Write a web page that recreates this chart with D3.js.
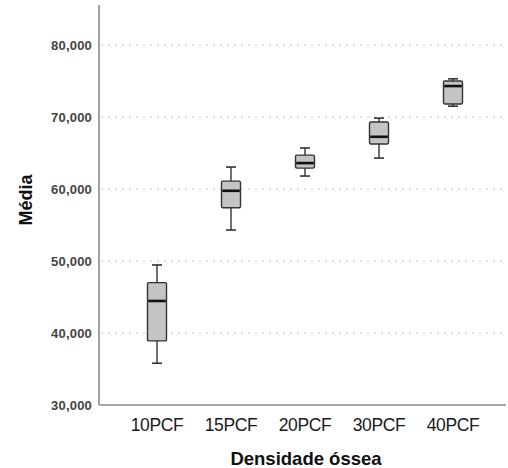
<!DOCTYPE html>
<html><head><meta charset="utf-8">
<script src="https://cdn.jsdelivr.net/npm/d3@7/dist/d3.min.js"></script>
<style>body{margin:0;background:#fff;} svg{display:block;}</style>
</head><body>
<svg id="c" width="508" height="468"></svg>
<script>
const categories = ["10PCF","15PCF","20PCF","30PCF","40PCF"];
const whiskerLow  = [35800, 54300, 61800, 64300, 71500];
const q1          = [38900, 57400, 62900, 66250, 71800];
const median      = [44450, 59750, 63600, 67250, 74300];
const q3          = [47000, 61100, 64700, 69300, 75000];
const whiskerHigh = [49450, 63050, 65700, 69850, 75300];
const yTicks = [30000, 40000, 50000, 60000, 70000, 80000];

(function () {
const svg = d3.select("#c");
const mLeft = 99, mBottom = 405, mTop = 5, mRight = 506;
const y = d3.scaleLinear().domain([30000, 85556]).range([mBottom, mTop]);
const x = d3.scaleBand().domain(categories).range([120, 490]);
const fmt = d3.format(",");

// gridlines
svg.append("g").selectAll("line").data(yTicks.filter(t => t > 30000)).join("line")
  .attr("x1", mLeft + 2).attr("x2", mRight)
  .attr("y1", d => y(d)).attr("y2", d => y(d))
  .attr("stroke", "#c4c4c4").attr("stroke-width", 1.2)
  .attr("stroke-dasharray", "2,5");

// y axis
const yAxis = d3.axisLeft(y).tickValues(yTicks).tickFormat(fmt).tickSize(0).tickPadding(7);
const gy = svg.append("g").attr("transform", `translate(${mLeft},0)`).call(yAxis);
gy.select(".domain").remove();
gy.selectAll("text").attr("font-family", "Liberation Sans, Arial, sans-serif")
  .attr("font-size", 13).attr("font-weight", "bold").attr("fill", "#444")
  .attr("letter-spacing", "0.2");

// x axis
const xAxis = d3.axisBottom(x).tickSize(0).tickPadding(14);
const gx = svg.append("g").attr("transform", `translate(0,${mBottom})`).call(xAxis);
gx.select(".domain").remove();
gx.selectAll("text").attr("font-family", "Liberation Sans, Arial, sans-serif")
  .attr("font-size", 17.5).attr("fill", "#1a1a1a").attr("letter-spacing", "-0.4");

// axis lines
svg.append("line").attr("x1", mLeft).attr("x2", mLeft).attr("y1", mTop).attr("y2", mBottom)
  .attr("stroke", "#8a8a8a").attr("stroke-width", 1.6);
svg.append("line").attr("x1", mLeft).attr("x2", mRight).attr("y1", mBottom).attr("y2", mBottom)
  .attr("stroke", "#8a8a8a").attr("stroke-width", 1.6);

// boxes
const bw = 19, cw = 10;
const g = svg.append("g");
categories.forEach((c, i) => {
  const cx = x(c) + x.bandwidth() / 2;
  const gg = g.append("g");
  gg.append("line").attr("x1", cx).attr("x2", cx).attr("y1", y(whiskerHigh[i])).attr("y2", y(q3[i]))
    .attr("stroke", "#333").attr("stroke-width", 1.4);
  gg.append("line").attr("x1", cx).attr("x2", cx).attr("y1", y(q1[i])).attr("y2", y(whiskerLow[i]))
    .attr("stroke", "#333").attr("stroke-width", 1.4);
  gg.append("line").attr("x1", cx - cw/2).attr("x2", cx + cw/2).attr("y1", y(whiskerHigh[i])).attr("y2", y(whiskerHigh[i]))
    .attr("stroke", "#333").attr("stroke-width", 1.6);
  gg.append("line").attr("x1", cx - cw/2).attr("x2", cx + cw/2).attr("y1", y(whiskerLow[i])).attr("y2", y(whiskerLow[i]))
    .attr("stroke", "#333").attr("stroke-width", 1.6);
  gg.append("rect").attr("x", cx - bw/2).attr("width", bw)
    .attr("y", y(q3[i])).attr("height", y(q1[i]) - y(q3[i]))
    .attr("rx", 1.5).attr("fill", "#c4c4c4").attr("stroke", "#333").attr("stroke-width", 1.4);
  gg.append("line").attr("x1", cx - bw/2 + 0.7).attr("x2", cx + bw/2 - 0.7).attr("y1", y(median[i])).attr("y2", y(median[i]))
    .attr("stroke", "#111").attr("stroke-width", 2.6);
});

// axis titles
svg.append("text").attr("x", 306).attr("y", 465).attr("text-anchor", "middle")
  .attr("font-family", "Liberation Sans, Arial, sans-serif").attr("font-weight", "bold")
  .attr("font-size", 18.5).attr("fill", "#111").text("Densidade óssea");
svg.append("text").attr("transform", "translate(32,200) rotate(-90)").attr("text-anchor", "middle")
  .attr("font-family", "Liberation Sans, Arial, sans-serif").attr("font-weight", "bold")
  .attr("font-size", 18).attr("fill", "#111").text("Média");
})();
</script>
</body></html>
